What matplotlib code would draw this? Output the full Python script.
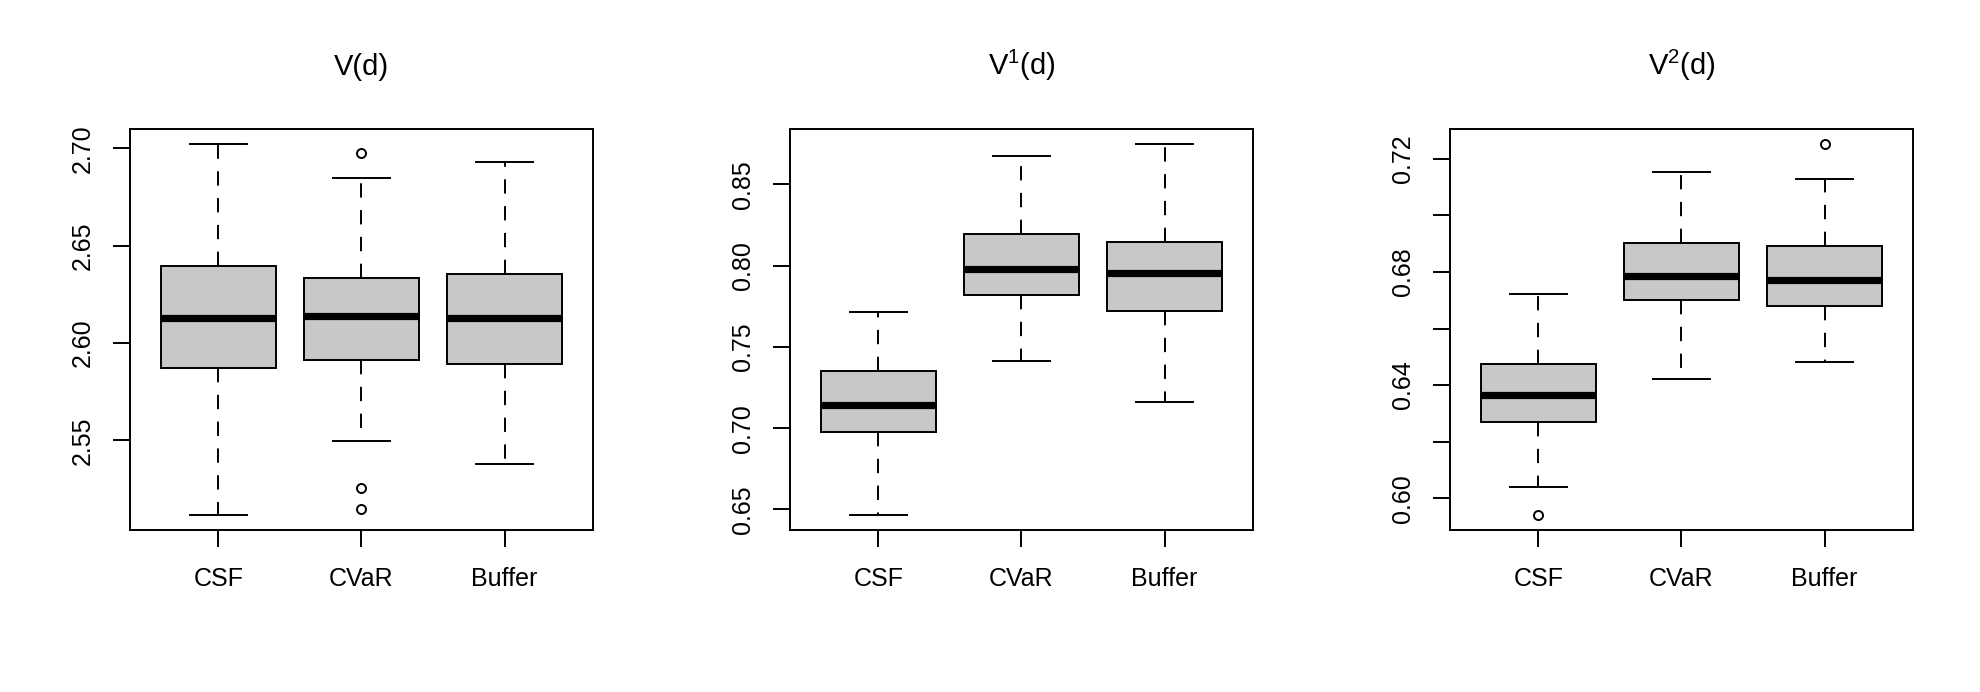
import matplotlib
matplotlib.use("Agg")
import matplotlib.pyplot as plt

plt.rcParams['font.family'] = ['Liberation Sans', 'DejaVu Sans']
plt.rcParams['mathtext.fontset'] = 'custom'
plt.rcParams['mathtext.rm'] = 'Liberation Sans'
plt.rcParams['mathtext.default'] = 'regular'
plt.rcParams['lines.scale_dashes'] = False

## data ##
groups = ['CSF', 'CVaR', 'Buffer']
titles = ['V(d)', 'V$^1$(d)', 'V$^2$(d)']

# V(d)
v_whislo = [2.5115, 2.5497, 2.5377]
v_q1 = [2.5872, 2.5913, 2.5893]
v_med = [2.6128, 2.6137, 2.6128]
v_q3 = [2.6397, 2.6332, 2.6354]
v_whishi = [2.7022, 2.6846, 2.6930]
v_fliers = [[], [2.6979, 2.5253, 2.5146], []]

# V^1(d)
v1_whislo = [0.6465, 0.7414, 0.7162]
v1_q1 = [0.6975, 0.7822, 0.7723]
v1_med = [0.7141, 0.7982, 0.7955]
v1_q3 = [0.7355, 0.8195, 0.8143]
v1_whishi = [0.7715, 0.8672, 0.8748]
v1_fliers = [[], [], []]

# V^2(d)
v2_whislo = [0.6040, 0.6421, 0.6480]
v2_q1 = [0.6271, 0.6701, 0.6680]
v2_med = [0.6365, 0.6786, 0.6771]
v2_q3 = [0.6476, 0.6901, 0.6891]
v2_whishi = [0.6721, 0.7152, 0.7130]
v2_fliers = [[0.5940], [], [0.7252]]

yticks = [
    [2.55, 2.60, 2.65, 2.70],
    [0.65, 0.70, 0.75, 0.80, 0.85],
    [0.60, 0.62, 0.64, 0.66, 0.68, 0.70, 0.72],
]
yticklabels = [
    ['2.55', '2.60', '2.65', '2.70'],
    ['0.65', '0.70', '0.75', '0.80', '0.85'],
    ['0.60', '', '0.64', '', '0.68', '', '0.72'],
]

panels = [
    (v_whislo, v_q1, v_med, v_q3, v_whishi, v_fliers),
    (v1_whislo, v1_q1, v1_med, v1_q3, v1_whishi, v1_fliers),
    (v2_whislo, v2_q1, v2_med, v2_q3, v2_whishi, v2_fliers),
]

fig = plt.figure(figsize=(19.8, 6.92), dpi=100)
lefts = [129.6 / 1980, 789.6 / 1980, 1449.6 / 1980]

for k, (lo, q1, med, q3, hi, fl) in enumerate(panels):
    ax = fig.add_axes([lefts[k], 1 - 530 / 692, 463.7 / 1980, 400.7 / 692])
    stats = []
    for i in range(len(groups)):
        stats.append(dict(whislo=lo[i], q1=q1[i], med=med[i], q3=q3[i],
                          whishi=hi[i], fliers=fl[i], label=groups[i]))
    ax.bxp(stats, positions=[1, 2, 3], widths=0.8, patch_artist=True,
           boxprops=dict(facecolor='#c8c8c8', edgecolor='black', linewidth=1.4),
           medianprops=dict(color='black', linewidth=5.2, solid_capstyle='butt'),
           whiskerprops=dict(color='black', linewidth=1.4, linestyle=(0, (10.3, 9))),
           capprops=dict(color='black', linewidth=1.4),
           capwidths=0.4,
           flierprops=dict(marker='o', markersize=6.5, markerfacecolor='none',
                           markeredgecolor='black', markeredgewidth=1.4))

    # R style limits: 4% padding around data range
    allv = lo + hi + [v for f in fl for v in f]
    ymin, ymax = min(allv), max(allv)
    pad = 0.04 * (ymax - ymin)
    ax.set_ylim(ymin - pad, ymax + pad)
    ax.set_xlim(0.38, 3.62)

    ax.set_yticks(yticks[k])
    ax.set_yticklabels(yticklabels[k], rotation=90, va='center')
    ax.set_xticks([1, 2, 3])
    ax.set_xticklabels(groups)
    ax.tick_params(axis='y', length=12, width=1.4, pad=13, labelsize=18)
    ax.tick_params(axis='x', length=12, width=1.4, pad=15, labelsize=18)
    for spine in ax.spines.values():
        spine.set_linewidth(1.4)
    ax.set_title(titles[k], fontsize=21, pad=39)

plt.savefig('out.png', dpi=100)
